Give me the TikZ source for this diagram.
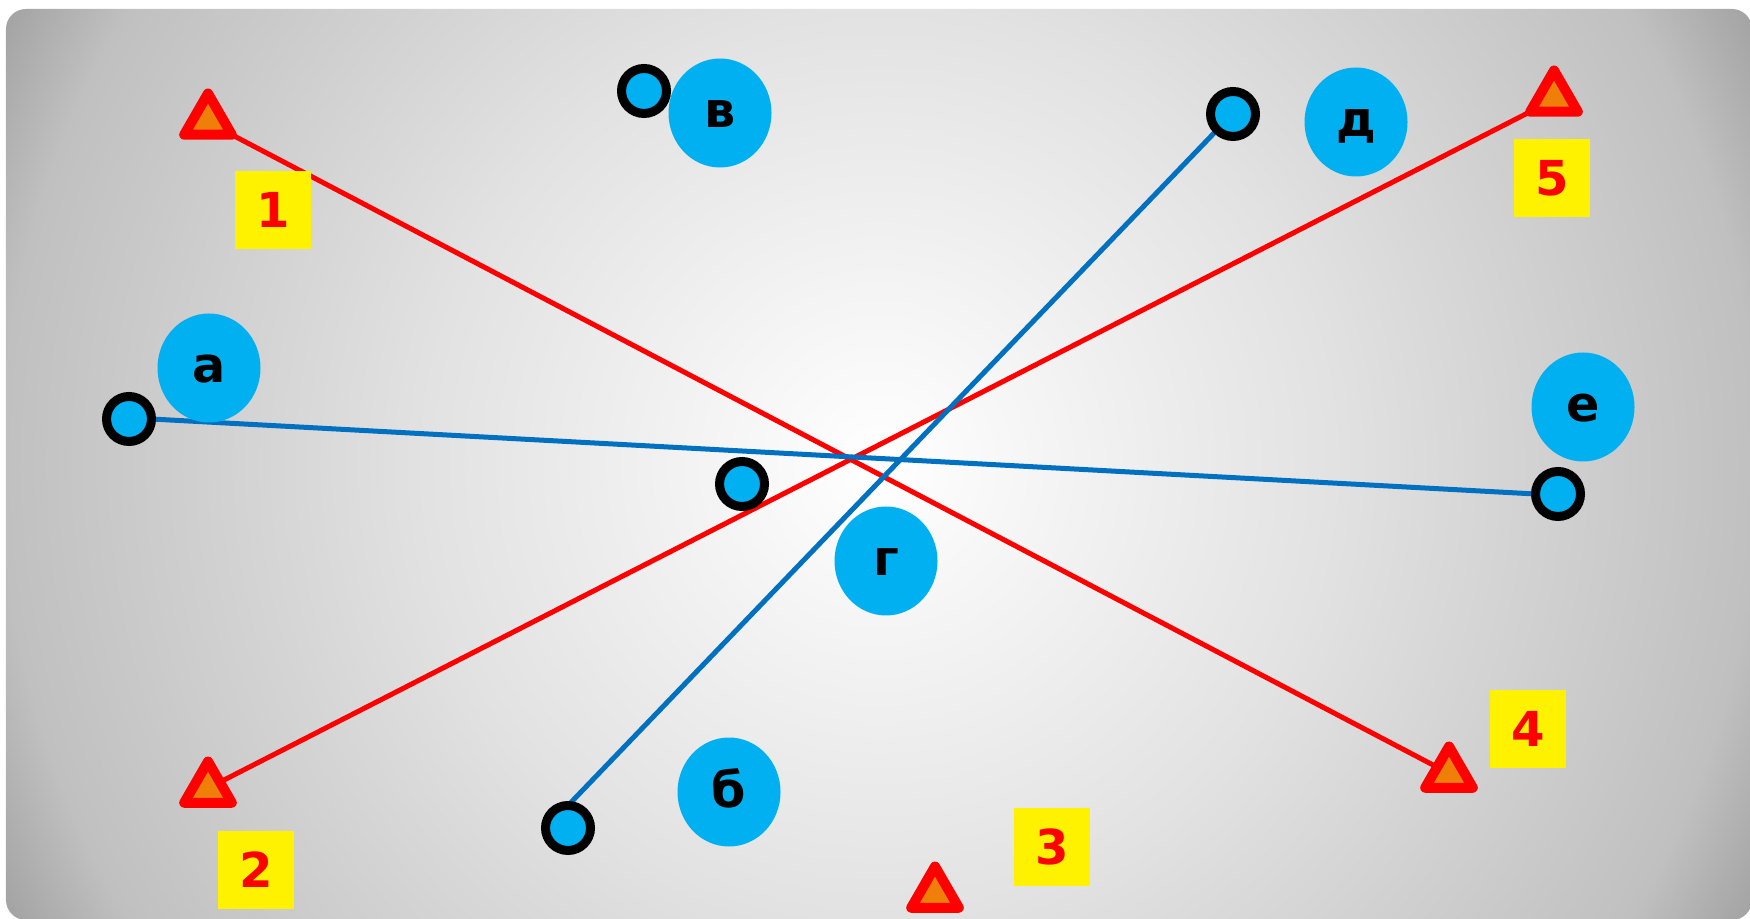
\documentclass[tikz,border=0pt]{standalone}
\usepackage{fontspec}
\setmainfont{DejaVu Sans}
\usetikzlibrary{shapes.geometric}
\definecolor{bgmid}{RGB}{226,226,226}
\definecolor{bgside}{RGB}{192,192,192}
\definecolor{bgedge}{RGB}{162,162,162}
\pgfdeclareradialshading{bgglow}{\pgfpoint{0bp}{0bp}}{color(0bp)=(white); color(11.5bp)=(bgmid); color(22.25bp)=(bgside); color(25bp)=(bgedge); color(50bp)=(bgedge)}
\pgfdeclarelayer{back}
\pgfdeclarelayer{wires}
\pgfsetlayers{back,wires,main}
\begin{document}
\begin{tikzpicture}[
    tri/.style={regular polygon, regular polygon sides=3, draw=red, fill=r240g127b9,
      line width=0.1cm, line join=round, minimum size=0.55cm, inner sep=0pt, outer sep=0pt},
    numbox/.style={fill=yellow, text=red, font=\fontsize{13.7}{16}\selectfont\bfseries,
      minimum width=0.76cm, minimum height=0.78cm, inner sep=0pt},
    letter/.style={ellipse, fill=r0g176b240, font=\fontsize{14}{16}\selectfont\bfseries,
      minimum width=1.03cm, minimum height=1.09cm, inner sep=0pt, text height=0.3cm, text depth=0pt},
    spot/.style={circle, draw=black, fill=r0g176b240, line width=0.09cm,
      minimum size=0.45cm, inner sep=0pt, outer sep=0pt}]
                        \useasboundingbox (0.000000,0.000000) rectangle (17.500000,9.180000);

                        % Changing colors
                        \definecolor{r240g127b9}{rgb}{0.941176,0.498039,0.035294}%
                        \definecolor{r0g176b240}{rgb}{0.000000,0.690196,0.941176}%
                        \definecolor{r0g112b192}{rgb}{0.000000,0.439216,0.752941}%

                        % Drawing frame
                        \begin{pgfonlayer}{back}
                        \clip [rounded corners=0.2cm] (0.060000,-0.020000) rectangle (17.520000,9.090000);%
                        \shade [shading=bgglow] (8.790000,4.540000) circle (9.850000);%
                        \end{pgfonlayer}

                        % Marking triangles
                        \node [tri] (t1) at (2.080000,7.970000) {};%
                        \node [tri] (t2) at (2.080000,1.290000) {};%
                        \node [tri] (t3) at (9.350000,0.240000) {};%
                        \node [tri] (t4) at (14.490000,1.440000) {};%
                        \node [tri] (t5) at (15.540000,8.200000) {};%

                        % Marking numbers
                        \node [numbox] (n1) at (2.730000,7.080000) {1};%
                        \node [numbox] (n2) at (2.560000,0.480000) {2};%
                        \node [numbox] (n3) at (10.520000,0.710000) {3};%
                        \node [numbox] (n4) at (15.280000,1.890000) {4};%
                        \node [numbox] (n5) at (15.520000,7.400000) {5};%

                        % Marking letters
                        \node [letter] (la) at (2.090000,5.500000) {а};%
                        \node [letter] (lb) at (7.290000,1.260000) {б};%
                        \node [letter] (lv) at (7.200000,8.050000) {в};%
                        \node [letter] (lg) at (8.860000,3.570000) {г};%
                        \node [letter] (ld) at (13.560000,7.960000) {д};%
                        \node [letter] (le) at (15.830000,5.110000) {е};%

                        % Marking points by circle
                        \node [spot] (va) at (1.290000,4.990000) {};%
                        \node [spot] (vb) at (5.680000,0.900000) {};%
                        \node [spot] (vv) at (6.440000,8.270000) {};%
                        \node [spot] (vg) at (7.420000,4.340000) {};%
                        \node [spot] (vd) at (12.330000,8.040000) {};%
                        \node [spot] (ve) at (15.580000,4.240000) {};%

                        \begin{pgfonlayer}{wires}
                        % Drawing line 1 4
                        \draw [line width=0.05cm, red] (t1.corner 3) -- (t4.side 1);%
                        % Drawing line 2 5
                        \draw [line width=0.05cm, red] (t2.side 3) -- (t5.corner 2);%
                        % Drawing line a e
                        \draw [line width=0.05cm, r0g112b192] (va.east) -- (ve.west);%
                        % Drawing line b d
                        \draw [line width=0.05cm, r0g112b192] (vb.north) -- (vd.south west);%
                        \end{pgfonlayer}
                    \end{tikzpicture}
\end{document}
